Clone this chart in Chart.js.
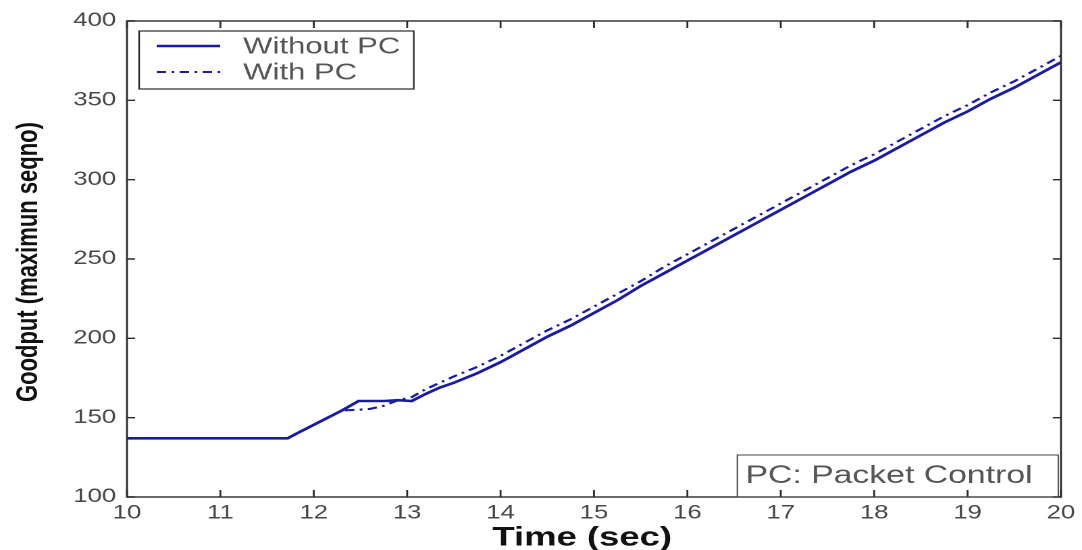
<!DOCTYPE html>
<html>
<head>
<meta charset="utf-8">
<script src="https://cdn.jsdelivr.net/npm/chart.js@4/dist/chart.umd.min.js"></script>
<style>
  html, body { margin: 0; padding: 0; background: #fff; overflow: hidden; }
  #wrap { width: 1082px; height: 550px; overflow: hidden; position: relative; background: #fff; }
  /* the figure is drawn on a narrower canvas and widened horizontally */
  #c { display: block; transform: scaleX(1.3508); transform-origin: 0 0; }
</style>
</head>
<body>
<div id="wrap"><canvas id="c" width="801" height="550"></canvas></div>
<script>
// Simulation time (s)
const timeSec = [
  10, 11.72, 11.85, 12.0, 12.15, 12.3, 12.48, 12.6, 12.75, 12.9, 13.05, 13.2, 13.35, 13.5,
  13.75, 14, 14.25, 14.5, 14.75, 15, 15.25, 15.5, 15.75, 16, 16.25, 16.5, 16.75,
  17, 17.25, 17.5, 17.75, 18, 18.25, 18.5, 18.75, 19, 19.25, 19.5, 19.75, 20
];
// Maximum sequence number received, without packet control
const goodputWithoutPC = [
  137, 137, 141, 145.5, 150, 154.5, 160.5, 160.5, 160.5, 161, 160.5, 165, 169, 172,
  178, 185, 193, 201, 208, 216, 224, 233, 241, 249, 257, 265, 273,
  281, 289, 297, 305, 312, 320, 328, 336, 343, 351, 358, 366, 374
];
// Maximum sequence number received, with packet control
const goodputWithPC = [
  137, 137, 141, 145.5, 150, 154.5, 155, 155.5, 157.5, 161, 163, 168, 172, 176,
  182, 189, 197, 205, 212, 220, 228, 236, 245, 253, 261, 269, 277,
  285, 293, 301, 309, 316, 324, 332, 340, 347, 355, 362, 370, 378
];
const xTickValues = [10, 11, 12, 13, 14, 15, 16, 17, 18, 19, 20];
const yTickValues = [100, 150, 200, 250, 300, 350, 400];
const seriesLabels = ['Without PC', 'With PC'];
const xTitle = 'Time (sec)';
const yTitle = 'Goodput (maximun seqno)';
const noteText = 'PC: Packet Control';

const LINE = '#1b1b9e';
const TICK_FONT = '"Liberation Sans", Arial, sans-serif';

const toPoints = (ys) => timeSec.map((t, i) => ({ x: t, y: ys[i] }));

// Box, inward ticks, axis titles, legend and note
const figureDecor = {
  id: 'figureDecor',
  afterDraw(chart) {
    const { ctx, chartArea: a, scales: { x, y } } = chart;
    ctx.save();
    // axes box
    ctx.strokeStyle = '#2a2a2a';
    ctx.lineWidth = 1.4;
    ctx.strokeRect(a.left, a.top, a.right - a.left, a.bottom - a.top);
    // inward tick marks on all four sides
    ctx.beginPath();
    x.ticks.forEach(t => {
      const px = x.getPixelForValue(t.value);
      ctx.moveTo(px, a.bottom); ctx.lineTo(px, a.bottom - 7);
      ctx.moveTo(px, a.top); ctx.lineTo(px, a.top + 7);
    });
    y.ticks.forEach(t => {
      const py = y.getPixelForValue(t.value);
      ctx.moveTo(a.left, py); ctx.lineTo(a.left + 6, py);
      ctx.moveTo(a.right, py); ctx.lineTo(a.right - 6, py);
    });
    ctx.stroke();

    // axis titles
    ctx.fillStyle = '#111';
    ctx.textAlign = 'center';
    ctx.textBaseline = 'middle';
    ctx.font = 'bold 27px ' + TICK_FONT;
    ctx.fillText(xTitle, 431, 538);
    ctx.save();
    ctx.translate(21.5, 262);
    ctx.rotate(-Math.PI / 2);
    ctx.font = 'bold 22px ' + TICK_FONT;
    ctx.fillText(yTitle, 0, 0);
    ctx.restore();

    // legend
    const ds = chart.data.datasets;
    ctx.font = '23px ' + TICK_FONT;
    const textLeft = 180;
    const maxW = Math.max(...ds.map(d => ctx.measureText(d.label).width));
    const lx = 103, ly = 31, lw = textLeft + maxW + 10 - lx, lh = 58;
    ctx.fillStyle = '#fff';
    ctx.fillRect(lx, ly, lw, lh);
    ctx.strokeStyle = '#2a2a2a';
    ctx.lineWidth = 1.2;
    ctx.strokeRect(lx, ly, lw, lh);
    const rows = [46, 72];
    ds.forEach((d, i) => {
      ctx.save();
      ctx.strokeStyle = d.borderColor;
      ctx.lineWidth = d.borderWidth;
      ctx.setLineDash(d.borderDash || []);
      ctx.beginPath();
      ctx.moveTo(116, rows[i]);
      ctx.lineTo(163, rows[i]);
      ctx.stroke();
      ctx.restore();
      ctx.fillStyle = '#555';
      ctx.textAlign = 'left';
      ctx.textBaseline = 'middle';
      ctx.fillText(d.label, textLeft, rows[i] + 1);
    });

    // note box in the lower right corner
    ctx.font = '25px ' + TICK_FONT;
    const nw = ctx.measureText(noteText).width;
    const nRight = a.right - 2;
    const nx = nRight - nw - 25, ny = 455;
    ctx.strokeStyle = '#444';
    ctx.lineWidth = 1;
    ctx.strokeRect(nx, ny, nRight - nx, a.bottom - ny);
    ctx.fillStyle = '#555';
    ctx.textAlign = 'left';
    ctx.fillText(noteText, nx + 6, 476);
    ctx.restore();
  }
};

new Chart(document.getElementById('c'), {
  type: 'line',
  data: {
    datasets: [
      {
        label: seriesLabels[0],
        data: toPoints(goodputWithoutPC),
        borderColor: LINE,
        borderWidth: 2.6,
        pointRadius: 0,
        tension: 0,
        fill: false
      },
      {
        label: seriesLabels[1],
        data: toPoints(goodputWithPC),
        borderColor: LINE,
        borderWidth: 2.1,
        borderDash: [7, 4, 2, 4],
        pointRadius: 0,
        tension: 0,
        fill: false
      }
    ]
  },
  options: {
    responsive: false,
    animation: false,
    devicePixelRatio: 2,
    layout: { padding: { left: 0, right: 11, top: 21, bottom: 0 } },
    plugins: { legend: { display: false }, tooltip: { enabled: false } },
    scales: {
      x: {
        type: 'linear',
        min: 10, max: 20,
        afterBuildTicks: s => { s.ticks = xTickValues.map(v => ({ value: v })); },
        afterFit: s => { s.height = 53; },
        grid: { display: false, drawTicks: false },
        border: { display: false },
        ticks: { color: '#484848', padding: 5, font: { family: TICK_FONT, size: 19 }, maxRotation: 0 }
      },
      y: {
        type: 'linear',
        min: 100, max: 400,
        afterBuildTicks: s => { s.ticks = yTickValues.map(v => ({ value: v })); },
        afterFit: s => { s.width = 94; },
        grid: { display: false, drawTicks: false },
        border: { display: false },
        ticks: { color: '#484848', padding: 8, font: { family: TICK_FONT, size: 19 } }
      }
    }
  },
  plugins: [figureDecor]
});
</script>
</body>
</html>
